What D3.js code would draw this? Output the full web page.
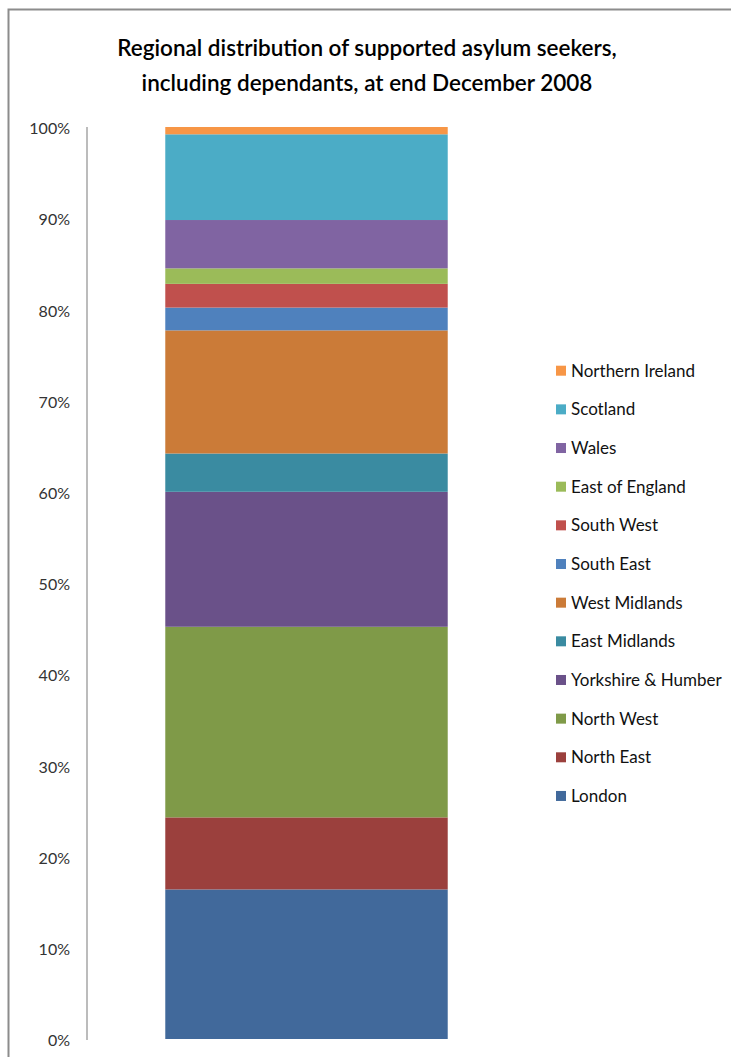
<!DOCTYPE html>
<html>
<head>
<meta charset="utf-8">
<script src="https://cdn.jsdelivr.net/npm/d3@7"></script>
<style>
  html, body { margin: 0; padding: 0; background: #fff; }
  svg { display: block; }
</style>
</head>
<body>
<svg id="chart" width="731" height="1057"></svg>
<script>
// ---- Data (percent of supported asylum seekers, bottom to top) ----
const categories = ["London", "North East", "North West", "Yorkshire & Humber", "East Midlands",
  "West Midlands", "South East", "South West", "East of England", "Wales", "Scotland", "Northern Ireland"];
const values = [16.4, 7.9, 20.9, 14.8, 4.2, 13.5, 2.5, 2.6, 1.7, 5.3, 9.4, 0.8];
const colors = ["#41699B", "#9B403D", "#7F9A48", "#6A5189", "#3A8BA1",
  "#CB7B38", "#4F81BD", "#C0504D", "#9BBB59", "#8064A2", "#4BACC6", "#F79646"];
const tickValues = [0, 0.1, 0.2, 0.3, 0.4, 0.5, 0.6, 0.7, 0.8, 0.9, 1.0];
const titleLines = ["Regional distribution of supported asylum seekers,",
  "including dependants, at end December 2008"];

const svg = d3.select("#chart");
const FONT = "Lato, 'Open Sans', sans-serif";

// frame
svg.append("path")
  .attr("d", "M8.5,1057 L8.5,9.5 L731,9.5")
  .attr("fill", "none").attr("stroke", "#8c8c8c").attr("stroke-width", 2);

// title
svg.append("g").selectAll("text").data(titleLines).join("text")
  .attr("x", 367).attr("y", (d, i) => 56 + i * 35)
  .attr("text-anchor", "middle")
  .attr("font-family", FONT).attr("font-size", 22.5).attr("font-weight", 600).attr("fill", "#000")
  .text(d => d);

// scales
const total = d3.sum(values);
const y = d3.scaleLinear().domain([0, 1]).range([1039, 127]);
const x = d3.scaleBand().domain(["All"]).range([87, 526]).padding(0.217);

// stacked data
let cum = 0;
const stacked = values.map((v, i) => {
  const s = { cat: categories[i], y0: cum / total, y1: (cum + v) / total, color: colors[i] };
  cum += v;
  return s;
});

svg.append("g").selectAll("rect").data(stacked).join("rect")
  .attr("x", x("All")).attr("width", x.bandwidth())
  .attr("y", d => y(d.y1)).attr("height", d => y(d.y0) - y(d.y1))
  .attr("fill", d => d.color);

// axis
const axis = svg.append("g").attr("transform", "translate(87,0)")
  .call(d3.axisLeft(y).tickValues(tickValues).tickFormat(d3.format(".0%")).tickSize(0).tickPadding(17));
axis.select(".domain").attr("stroke", "#a6a6a6").attr("stroke-width", 1.5)
  .attr("d", "M0," + (y(0) + 1) + "V" + y(1));
axis.selectAll("text").attr("font-family", FONT).attr("font-size", 16).attr("fill", "#333")
  .attr("dy", "0.42em");

// legend (top to bottom: reverse order)
const legendData = stacked.slice().reverse();
const lg = svg.append("g").selectAll("g").data(legendData).join("g")
  .attr("transform", (d, i) => `translate(556,${370.7 + i * 38.66})`);
lg.append("rect").attr("x", 0).attr("y", -5).attr("width", 10).attr("height", 10)
  .attr("fill", d => d.color);
lg.append("text").attr("x", 15).attr("y", 0).attr("dy", "0.35em")
  .attr("font-family", FONT).attr("font-size", 17).attr("fill", "#111")
  .text(d => d.cat);
</script>
</body>
</html>
